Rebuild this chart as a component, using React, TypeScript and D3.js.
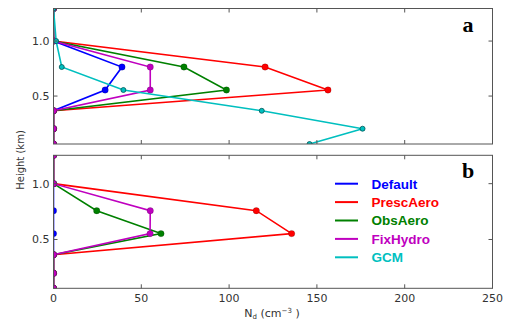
import React from "react";
import * as d3 from "d3";

const seriesNames = ["Default", "PrescAero", "ObsAero", "FixHydro", "GCM"];
const seriesColors = ["#0000ff", "#ff0000", "#008000", "#bf00bf", "#00bfbf"];

const heightsA = [1.296, 1.0, 0.764, 0.555, 0.366, 0.203, 0.064];
const defaultA = [0, 0, 39, 29.4, 0, 0, 0];
const prescA = [0, 0, 120.5, 156.3, 0, 0, 0];
const obsA = [0, 0, 74.3, 98.5, 0, 0, 0];
const fixA = [0, 0, 55.1, 55.1, 0, 0, 0];
const gcmA = [0, 1.5, 4.7, 39.8, 118.6, 176, 145.8];

const heightsB = [1.254, 1.0, 0.758, 0.553, 0.364, 0.198, 0.063];
const defaultB = [0, 0, 0, 0, 0, 0, 0];
const prescB = [0, 0, 115.5, 135.6, 0, 0, 0];
const obsB = [0, 0, 24.6, 61.2, 0, 0, 0];
const fixB = [0, 0, 55.1, 55.0, 0, 0, 0];

const xTicks = [0, 50, 100, 150, 200, 250];
const yTicks = [0.5, 1.0];

const W = 510;
const H = 322;
const left = 53.5;
const right = 492.5;

type Panel = {
  id: string;
  label: string;
  top: number;
  bottom: number;
  heights: number[];
  series: { name: string; values: number[] }[];
  showXLabels: boolean;
  legend: boolean;
};

const panels: Panel[] = [
  {
    id: "a",
    label: "a",
    top: 8.5,
    bottom: 144,
    heights: heightsA,
    series: [
      { name: "Default", values: defaultA },
      { name: "PrescAero", values: prescA },
      { name: "ObsAero", values: obsA },
      { name: "FixHydro", values: fixA },
      { name: "GCM", values: gcmA },
    ],
    showXLabels: false,
    legend: false,
  },
  {
    id: "b",
    label: "b",
    top: 155.3,
    bottom: 288.3,
    heights: heightsB,
    series: [
      { name: "Default", values: defaultB },
      { name: "PrescAero", values: prescB },
      { name: "ObsAero", values: obsB },
      { name: "FixHydro", values: fixB },
    ],
    showXLabels: true,
    legend: true,
  },
];

const x = d3.scaleLinear().domain([0, 250]).range([left, right]);

function PanelView({ p }: { p: Panel }) {
  const y = d3
    .scaleLinear()
    .domain(d3.extent(p.heights) as [number, number])
    .range([p.bottom, p.top]);
  const line = d3
    .line<number>()
    .x((d) => x(d))
    .y((_, i) => y(p.heights[i]));
  const tickLen = 4;
  const spine = "#555";
  return (
    <g>
      <defs>
        <clipPath id={"clip-" + p.id}>
          <rect x={left} y={p.top} width={right - left} height={p.bottom - p.top} />
        </clipPath>
      </defs>
      <g clipPath={`url(#clip-${p.id})`}>
        {p.series.map((s) => {
          const ci = seriesNames.indexOf(s.name);
          const color = seriesColors[ci];
          const isGcm = s.name === "GCM";
          return (
            <g key={s.name}>
              <path d={line(s.values) || ""} fill="none" stroke={color} strokeWidth={1.6} />
              {s.values.map((v, i) => (
                <circle
                  key={i}
                  cx={x(v)}
                  cy={y(p.heights[i])}
                  r={isGcm ? 2.5 : 3.2}
                  fill={color}
                  stroke={isGcm ? "#005555" : "rgba(0,0,0,0.35)"}
                  strokeWidth={isGcm ? 0.8 : 0.5}
                />
              ))}
            </g>
          );
        })}
      </g>
      <rect
        x={left}
        y={p.top}
        width={right - left}
        height={p.bottom - p.top}
        fill="none"
        stroke={spine}
        strokeWidth={1}
      />
      {xTicks.map((t) => (
        <g key={"xt" + t}>
          <line x1={x(t)} x2={x(t)} y1={p.bottom} y2={p.bottom - tickLen} stroke={spine} />
          <line x1={x(t)} x2={x(t)} y1={p.top} y2={p.top + tickLen} stroke={spine} />
          {p.showXLabels && (
            <text
              x={x(t)}
              y={p.bottom + 13.5}
              textAnchor="middle"
              fontFamily="DejaVu Sans"
              fontSize={11}
              fill="#333"
            >
              {t}
            </text>
          )}
        </g>
      ))}
      {yTicks.map((t) => (
        <g key={"yt" + t}>
          <line x1={left} x2={left + tickLen} y1={y(t)} y2={y(t)} stroke={spine} />
          <line x1={right} x2={right - tickLen} y1={y(t)} y2={y(t)} stroke={spine} />
          <text
            x={left - 4}
            y={y(t)}
            dy="0.36em"
            textAnchor="end"
            fontFamily="DejaVu Sans"
            fontSize={11}
            fill="#333"
          >
            {t.toFixed(1)}
          </text>
        </g>
      ))}
      <text
        x={468}
        y={p.top + 23}
        textAnchor="middle"
        fontFamily="Liberation Serif"
        fontWeight="bold"
        fontSize={22}
        fill="#000"
      >
        {p.label}
      </text>
      {p.legend &&
        seriesNames.map((n, i) => {
          const yy = 183.7 + i * 18.4;
          return (
            <g key={"lg" + n}>
              <line x1={335} x2={358} y1={yy} y2={yy} stroke={seriesColors[i]} strokeWidth={2} />
              <text
                x={371.5}
                y={yy}
                dy="0.36em"
                fontFamily="Liberation Sans"
                fontWeight="bold"
                fontSize={13.5}
                fill={seriesColors[i]}
              >
                {n}
              </text>
            </g>
          );
        })}
    </g>
  );
}

export default function App() {
  return (
    <svg
      width={W}
      height={H}
      style={{ position: "fixed", left: 0, top: 0, background: "#fff" }}
    >
      <rect width={W} height={H} fill="#fff" />
      {panels.map((p) => (
        <PanelView key={p.id} p={p} />
      ))}
      <text
        transform="translate(20,160) rotate(-90)"
        textAnchor="middle"
        dy="0.36em"
        fontFamily="DejaVu Sans"
        fontSize={10}
        fill="#333"
      >
        Height (km)
      </text>
      <text
        x={272}
        y={317}
        textAnchor="middle"
        fontFamily="DejaVu Sans"
        fontSize={11}
        fill="#333"
      >
        N
        <tspan fontSize={7} dy={2}>
          d
        </tspan>
        <tspan dy={-2}> (cm</tspan>
        <tspan fontSize={7} dy={-4}>
          −3
        </tspan>
        <tspan dy={4}> )</tspan>
      </text>
    </svg>
  );
}
